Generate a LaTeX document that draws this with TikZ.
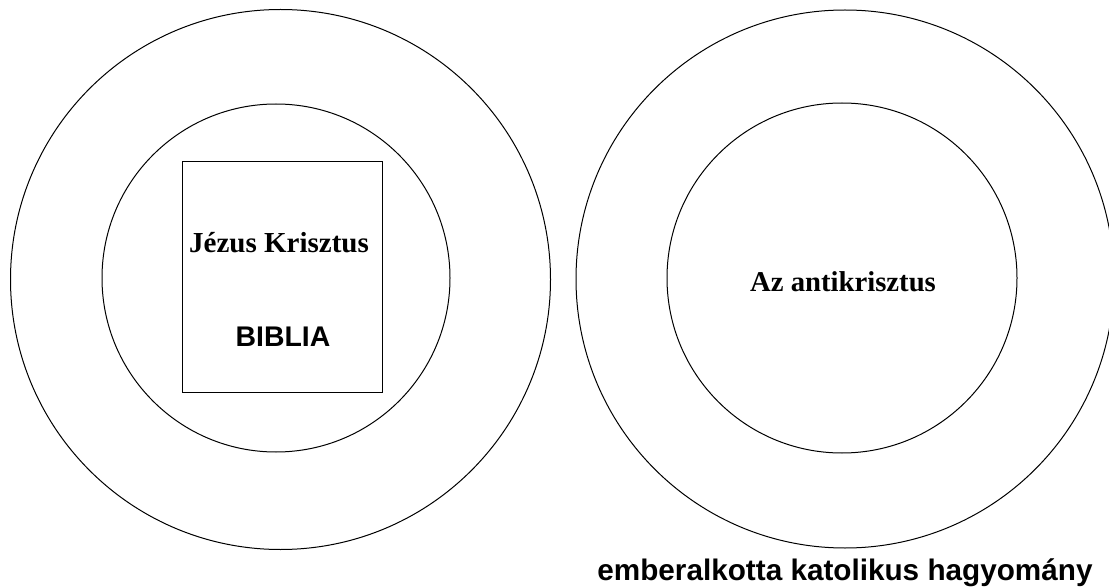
\documentclass[tikz,border=0pt]{standalone}
\usepackage{fontspec}
\setmainfont{Liberation Serif}
\newfontfamily\arialfont{Liberation Sans}
\begin{document}
\begin{tikzpicture}[x=1pt,y=-1pt,
  ring/.style={draw=black,line width=1pt,circle,inner sep=0pt,minimum size=#1},
  frame/.style={draw=black,line width=1pt,rectangle,inner sep=0pt},
  serifbold/.style={font=\fontsize{#1}{#1}\selectfont\bfseries,inner sep=0pt,anchor=base},
  sansbold/.style={font=\arialfont\fontsize{#1}{#1}\selectfont\bfseries,inner sep=0pt,anchor=base}]
\useasboundingbox[fill=white] (0,0) rectangle (1109,588);
\begin{scope}
\clip (0,0) rectangle (1109,588);
% left rings
\node[ring=540pt] (louter) at (280.5,279.5) {};
\node[ring=348pt] (linner) at (276,278) {};
% box
\node[frame,minimum width=200pt,minimum height=230pt] (box) at (282,277) {};
\node[serifbold=29] (jezus) at (279,253) {Jézus Krisztus};
\node[sansbold=28.4] (biblia) at (283,346.5) {BIBLIA};
% right rings
\node[ring=538pt] (router) at (845,279) {};
\node[ring=350pt] (rinner) at (842,278) {};
\node[serifbold=28.7] (anti) at (843,291) {Az antikrisztus};
\node[sansbold=29.7] (hagy) at (845,580) {emberalkotta katolikus hagyomány};
\end{scope}
\end{tikzpicture}
\end{document}
